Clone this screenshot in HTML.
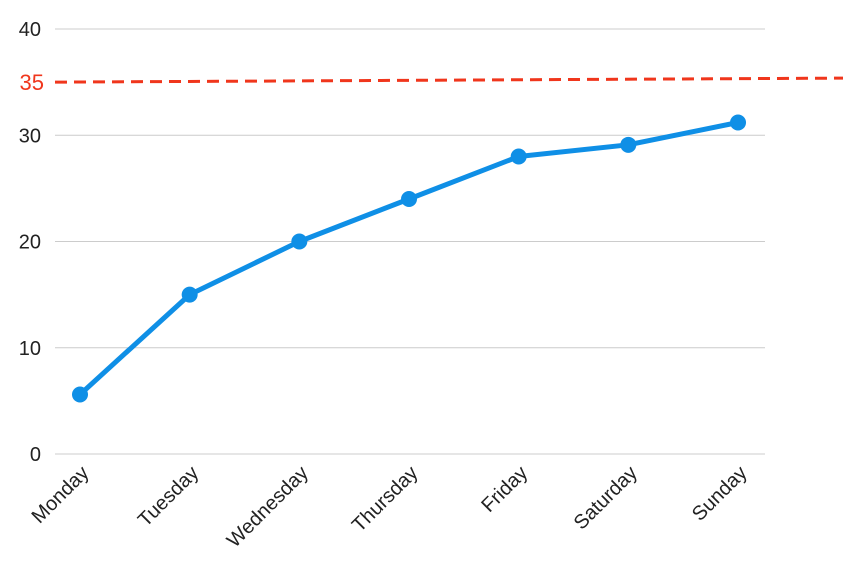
<!DOCTYPE html>
<html><head><meta charset="utf-8"><style>
html,body{margin:0;padding:0;background:#fff;}
svg{display:block;font-family:"Liberation Sans",sans-serif;}
</style></head><body>
<svg id="chart" width="843" height="564" xmlns="http://www.w3.org/2000/svg"></svg>
<script>
const categories = ["Monday","Tuesday","Wednesday","Thursday","Friday","Saturday","Sunday"];
const values = [5.6, 15, 20, 24, 28, 29.1, 31.2];
const yTicks = [0,10,20,30,40];
const targetValue = 35;
const targetLabel = "35";

const svg = document.getElementById('chart');
const NS = "http://www.w3.org/2000/svg";
const y0 = 454, pxPer = 10.625;
const yScale = v => y0 - v * pxPer;
const xScale = i => 80 + i * 109.67;
function mk(tag, attrs){const e=document.createElementNS(NS,tag);for(const k in attrs)e.setAttribute(k,attrs[k]);svg.appendChild(e);return e;}

yTicks.forEach(t=>{
  const g = mk('line',{x1:55,x2:765,y1:yScale(t),y2:yScale(t),stroke:'#cccccc','stroke-width':1});
  
  
  const l = mk('text',{x:41,y:yScale(t)+7,'text-anchor':'end','font-size':20,fill:'#222'});
  l.textContent = t;
  
  
});

const tl = mk('line',{x1:55,x2:843,y1:yScale(targetValue),y2:yScale(targetValue)-4,stroke:'#f0361c','stroke-width':3,'stroke-dasharray':'12,7'});


const tlab = mk('text',{x:44,y:yScale(targetValue)+8,'text-anchor':'end','font-size':22,fill:'#f0361c'});
tlab.textContent = targetLabel;



const pts = values.map((v,i)=>xScale(i)+','+yScale(v)).join(' ');
const line = mk('polyline',{points:pts,fill:'none',stroke:'#0f8fe6','stroke-width':5,'stroke-linejoin':'round'});



values.forEach((v,i)=>{
  const c = mk('circle',{cx:xScale(i),cy:yScale(v),r:8,fill:'#0f8fe6'});
  
  
});

categories.forEach((c,i)=>{
  const x = xScale(i)+10, y = 474;
  const t = mk('text',{x:x,y:y,'text-anchor':'end','font-size':20,fill:'#222',transform:`rotate(-45 ${x} ${y})`});
  t.textContent = c;
  
  
});
</script>
</body></html>
